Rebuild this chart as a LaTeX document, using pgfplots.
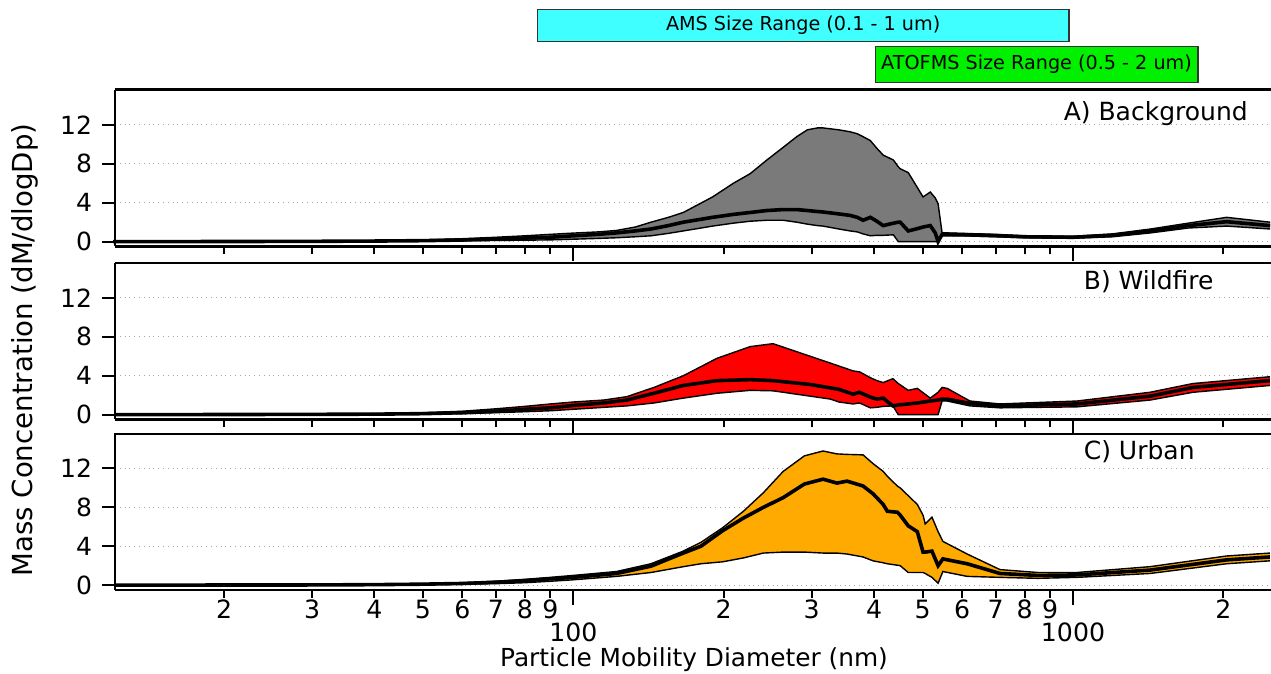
\documentclass[border=0pt]{standalone}
\usepackage{fontspec}
\setmainfont{DejaVu Sans}
\usepackage{pgfplots}
\pgfplotsset{compat=1.18}
\usepackage{pgfplotstable}
\usepgfplotslibrary{fillbetween}

\definecolor{bggray}{RGB}{122,122,122}
\definecolor{wfred}{RGB}{255,0,0}
\definecolor{urborange}{RGB}{255,170,0}
\definecolor{amscyan}{RGB}{64,255,255}
\definecolor{atofgreen}{RGB}{0,240,0}

\pgfplotstableread{
x lo hi m
12 0 0.01 0.005
20 0 0.02 0.01
30 0.01 0.05 0.03
40 0.03 0.1 0.06
50 0.05 0.18 0.1
60 0.08 0.3 0.17
70 0.12 0.45 0.27
80 0.15 0.6 0.37
90 0.18 0.75 0.45
100 0.25 0.88 0.6
112 0.33 1.0 0.75
122 0.4 1.15 0.9
133 0.5 1.5 1.1
143 0.6 2.0 1.3
155 0.85 2.5 1.65
166 1.1 3.0 2.0
190 1.6 4.6 2.5
209 1.9 6.0 2.8
226 2.1 7.0 3.0
244 2.2 8.4 3.2
263 2.2 9.7 3.3
280 2.0 10.8 3.3
294 1.8 11.5 3.2
308 1.65 11.7 3.1
316 1.6 11.7 3.05
340 1.3 11.5 2.85
358 1.1 11.3 2.7
370 1.0 11.1 2.5
380 0.8 10.8 2.2
393 0.6 10.4 2.5
405 0.65 9.6 2.1
417 0.65 8.9 1.65
437 0.7 8.4 1.9
447 0 7.7 2.0
451 0 7.5 2.0
468 0 7.1 1.1
485 0 5.8 1.3
501 0 4.6 1.5
518 0 5.1 1.65
530 0 4.5 0.9
537 0 3.9 0.0
547 0.6 0.9 0.75
560 0.6 0.9 0.75
600 0.6 0.85 0.72
700 0.5 0.75 0.62
800 0.4 0.6 0.5
1000 0.35 0.55 0.45
1200 0.5 0.8 0.65
1430 0.9 1.3 1.1
1700 1.4 1.9 1.65
2030 1.6 2.5 2.05
2480 1.3 2.0 1.65
}\dataA

\pgfplotstableread{
x lo hi m
12 0 0.01 0.005
20 0 0.02 0.01
30 0.01 0.05 0.03
40 0.02 0.1 0.05
50 0.05 0.2 0.1
60 0.1 0.35 0.2
70 0.2 0.6 0.35
80 0.3 0.85 0.55
90 0.4 1.1 0.7
100 0.55 1.3 0.95
115 0.75 1.5 1.2
128 0.9 1.85 1.5
145 1.2 2.8 2.2
166 1.7 4.0 3.0
194 2.2 5.8 3.5
226 2.5 7.0 3.6
251 2.45 7.3 3.5
298 1.9 6.0 3.1
327 1.6 5.3 2.75
340 1.3 5.0 2.6
363 1.1 4.5 2.1
374 1.2 4.4 2.3
393 0.7 3.8 1.8
405 0.75 3.5 1.6
417 0.85 3.3 1.7
436 0.9 3.7 0.9
447 0 3.2 1.0
468 0 2.5 1.1
488 0 2.7 1.2
518 0 1.7 1.4
537 0 2.3 1.5
547 1.4 2.8 1.6
560 1.4 2.7 1.6
622 0.9 1.4 1.15
714 0.7 1.1 0.9
1018 0.8 1.4 1.1
1426 1.5 2.3 1.9
1738 2.3 3.2 2.8
2477 3.0 3.9 3.5
}\dataB

\pgfplotstableread{
x lo hi m
12 0 0.01 0.005
20 0 0.02 0.01
30 0.01 0.04 0.02
40 0.02 0.08 0.05
50 0.05 0.15 0.1
60 0.1 0.25 0.17
70 0.15 0.4 0.3
80 0.25 0.6 0.45
90 0.4 0.8 0.65
100 0.55 1.0 0.8
122 0.9 1.4 1.2
143 1.3 2.2 1.95
166 1.9 3.5 3.3
180 2.2 4.4 4.0
199 2.4 5.9 5.6
219 2.8 7.6 6.9
240 3.3 9.5 8.0
263 3.4 11.7 9.0
290 3.4 13.3 10.4
316 3.3 13.8 10.9
337 3.3 13.5 10.5
353 3.2 13.45 10.7
380 2.9 13.4 10.2
398 2.5 12.5 9.4
417 2.3 11.7 8.3
425 2.2 11.2 7.6
445 2.05 10.2 7.5
451 2.0 10.0 7.2
468 1.3 9.2 6.1
488 1.3 8.3 5.5
501 1.3 7.2 3.4
506 1.2 6.3 3.4
522 0.8 7.0 3.5
537 0.2 5.5 2.0
549 1.4 4.5 2.7
614 0.9 3.2 2.2
714 0.8 1.6 1.2
850 0.7 1.3 1.0
1018 0.8 1.3 1.05
1426 1.2 1.9 1.55
2030 2.2 3.0 2.6
2477 2.5 3.3 2.9
}\dataC

\pgfplotsset{
  every axis/.append style={
    scale only axis, width=578pt, height=78.25pt,
    xmin=12.1, xmax=2490, ymin=-0.5, ymax=15.6,
    axis x line*=bottom, axis y line*=left,
    axis line style={line width=1.4pt, -},
    tick style={line width=1.0pt, black},
    tick align=outside,
    xtick={100,1000},
    major tick length=7.5pt, minor tick length=4pt,
    ytick=\empty, minor ytick={2,6,10,14},
    extra y ticks={0,4,8,12},
    extra y tick labels={0,4,8,12},
    extra y tick style={major tick length=6.5pt, grid=major},
    major grid style={gray!70, dotted, line width=0.5pt},
    extra x ticks={20,30,40,50,60,70,80,90,200,300,400,500,600,700,800,900,2000},
    extra x tick style={major tick length=4pt, grid=none,
      tick label style={font=\fontsize{9}{11}\selectfont, yshift=8.1pt}},
    yticklabel style={font=\fontsize{12.5}{15}\selectfont, xshift=-1.5pt},
    xticklabel style={font=\fontsize{12.6}{15}\selectfont, yshift=-7.8pt, inner sep=1pt},
  },
  envelope/.style={black, line width=0.7pt},
  meanline/.style={black, line width=1.8pt},
}

\begin{document}
\begin{tikzpicture}
% Panel A
\begin{semilogxaxis}[at={(0,0)}, anchor=south west, clip=false,
  xticklabels={}, extra x tick labels={}]
\addplot[draw=none, name path=Ahi] table[x=x,y=hi]{\dataA};
\addplot[draw=none, name path=Alo] table[x=x,y=lo]{\dataA};
\addplot[fill=bggray, draw=none] fill between[of=Ahi and Alo];
\addplot[envelope] table[x=x,y=hi]{\dataA};
\addplot[envelope] table[x=x,y=lo]{\dataA};
\addplot[meanline] table[x=x,y=m]{\dataA};
\draw[line width=1.5pt] (rel axis cs:0,1) -- (rel axis cs:1,1);
\draw[gray!60, line width=0.5pt] (rel axis cs:1,0) -- (rel axis cs:1,1);
\node[anchor=east, font=\fontsize{12.5}{15}\selectfont] at (rel axis cs:0.986,0.851) {A) Background};
\draw[black!80, line width=0.7pt, fill=amscyan] (axis cs:84.7,20.6) rectangle (axis cs:981.7,23.9)
  node[midway, black, font=\fontsize{9.6}{11}\selectfont] {AMS Size Range (0.1 - 1 um)};
\draw[black!80, line width=0.7pt, fill=atofgreen] (axis cs:402,16.4) rectangle (axis cs:1778,20.1)
  node[midway, black, font=\fontsize{9.6}{11}\selectfont] {ATOFMS Size Range (0.5 - 2 um)};
\end{semilogxaxis}

% Panel B
\begin{semilogxaxis}[at={(0,-86.5pt)}, anchor=south west,
  xticklabels={}, extra x tick labels={}]
\addplot[draw=none, name path=Bhi] table[x=x,y=hi]{\dataB};
\addplot[draw=none, name path=Blo] table[x=x,y=lo]{\dataB};
\addplot[fill=wfred, draw=none] fill between[of=Bhi and Blo];
\addplot[envelope] table[x=x,y=hi]{\dataB};
\addplot[envelope] table[x=x,y=lo]{\dataB};
\addplot[meanline] table[x=x,y=m]{\dataB};
\draw[line width=1.5pt] (rel axis cs:0,1) -- (rel axis cs:1,1);
\draw[gray!60, line width=0.5pt] (rel axis cs:1,0) -- (rel axis cs:1,1);
\node[anchor=west, font=\fontsize{12.5}{15}\selectfont] at (rel axis cs:0.832,0.88) {B) Wildfire};
\end{semilogxaxis}

% Panel C
\begin{semilogxaxis}[at={(0,-171.75pt)}, anchor=south west,
  xticklabels={100,1000},
  extra x tick labels={2,3,4,5,6,7,8,9,2,3,4,5,6,7,8,9,2}]
\addplot[draw=none, name path=Chi] table[x=x,y=hi]{\dataC};
\addplot[draw=none, name path=Clo] table[x=x,y=lo]{\dataC};
\addplot[fill=urborange, draw=none] fill between[of=Chi and Clo];
\addplot[envelope] table[x=x,y=hi]{\dataC};
\addplot[envelope] table[x=x,y=lo]{\dataC};
\addplot[meanline] table[x=x,y=m]{\dataC};
\draw[line width=1.5pt] (rel axis cs:0,1) -- (rel axis cs:1,1);
\draw[gray!60, line width=0.5pt] (rel axis cs:1,0) -- (rel axis cs:1,1);
\node[anchor=west, font=\fontsize{12.5}{15}\selectfont] at (rel axis cs:0.832,0.884) {C) Urban};
\end{semilogxaxis}

\node[rotate=90, font=\fontsize{13.8}{16}\selectfont] at (-45pt,-51.75pt) {Mass Concentration (dM/dlogDp)};
\node[font=\fontsize{12.4}{15}\selectfont, inner sep=1pt] at (289.5pt,-206.75pt) {Particle Mobility Diameter (nm)};

\pgfresetboundingbox
\path[use as bounding box] (-57.5pt,-213.75pt) rectangle (578pt,123.25pt);
\end{tikzpicture}
\end{document}
